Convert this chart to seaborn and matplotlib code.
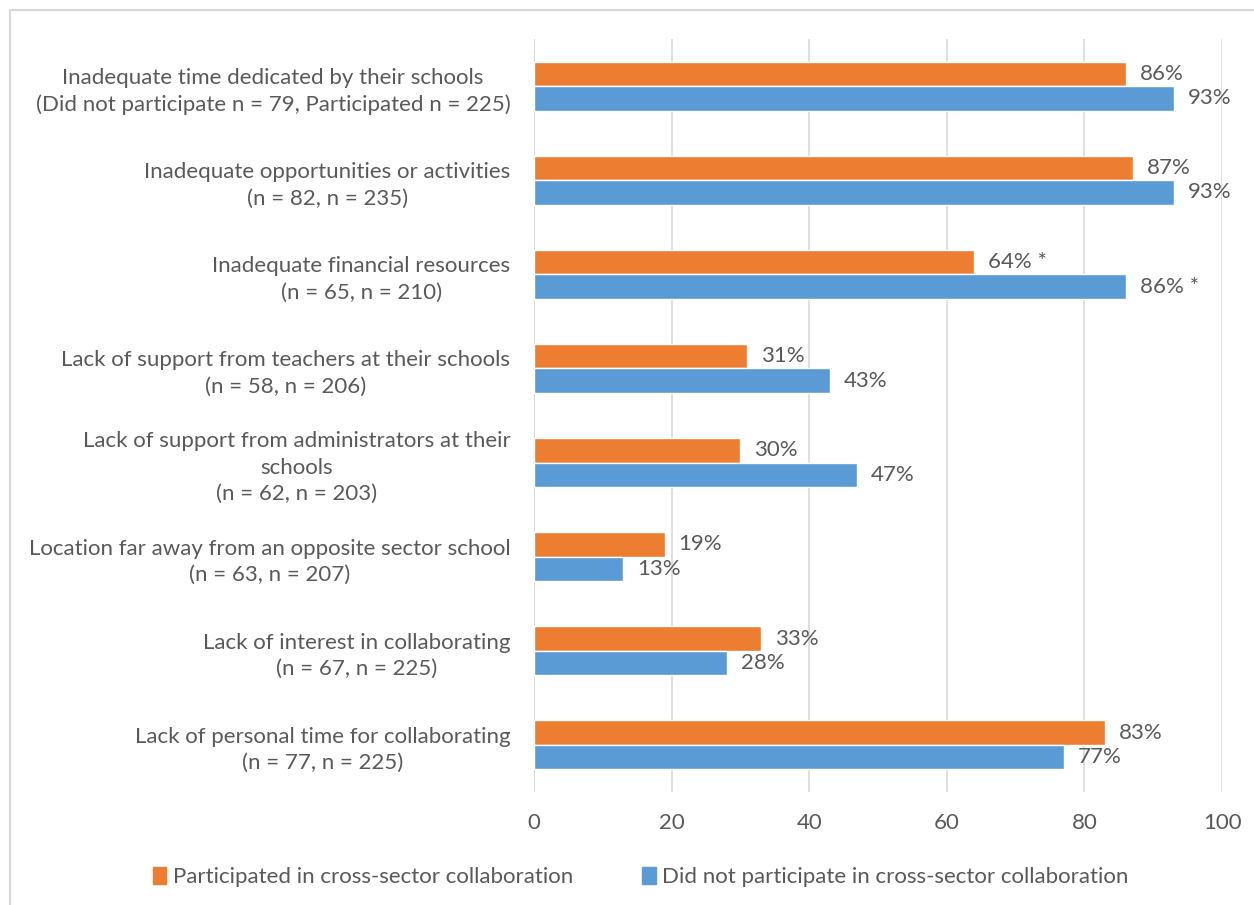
import matplotlib
matplotlib.use("Agg")
import matplotlib.pyplot as plt
import matplotlib.patches as mpatches
import pandas as pd
import seaborn as sns

categories = [
    "Inadequate time dedicated by their schools\n(Did not participate n = 79, Participated n = 225)",
    "Inadequate opportunities or activities\n(n = 82, n = 235)",
    "Inadequate financial resources\n(n = 65, n = 210)",
    "Lack of support from teachers at their schools\n(n = 58, n = 206)",
    "Lack of support from administrators at their\nschools\n(n = 62, n = 203)",
    "Location far away from an opposite sector school\n(n = 63, n = 207)",
    "Lack of interest in collaborating\n(n = 67, n = 225)",
    "Lack of personal time for collaborating\n(n = 77, n = 225)",
]
participated = [86, 87, 64, 31, 30, 19, 33, 83]
not_participated = [93, 93, 86, 43, 47, 13, 28, 77]
significant = [False, False, True, False, False, False, False, False]

series_names = ["Participated in cross-sector collaboration",
                "Did not participate in cross-sector collaboration"]
colors = ["#ED7D31", "#5B9BD5"]
text_color = "#595959"
grid_color = "#D9D9D9"
fs = 16

df = pd.DataFrame({
    "category": categories * 2,
    "value": participated + not_participated,
    "series": [series_names[0]] * len(categories) + [series_names[1]] * len(categories),
})

sns.set_style("white")
plt.rcParams["font.family"] = ["Lato", "DejaVu Sans"]

fig = plt.figure(figsize=(12.54, 9.05), dpi=100)
ax = fig.add_axes([0.4258, 0.1249, 0.5487, 0.832])

sns.barplot(data=df, y="category", x="value", hue="series", order=categories,
            hue_order=series_names, palette=colors, orient="h", width=0.52,
            saturation=1, ax=ax, legend=True)

for cont, vals in zip(ax.containers, [participated, not_participated]):
    labels = [f"{v}%" + (" *" if s else "") for v, s in zip(vals, significant)]
    ax.bar_label(cont, labels=labels, padding=10, fontsize=fs, color=text_color)

ax.set_xlim(0, 100)
ax.set_xticks(range(0, 101, 20))
ax.grid(axis="x", color=grid_color, linewidth=1.2)
ax.set_axisbelow(True)
for sp in ax.spines.values():
    sp.set_visible(False)
ax.axvline(0, color=grid_color, linewidth=1.2, zorder=0)
ax.set_xlabel("")
ax.set_ylabel("")
ax.tick_params(axis="x", length=0, pad=15, labelsize=fs, labelcolor=text_color)
ax.tick_params(axis="y", length=0, pad=17, labelsize=fs, labelcolor=text_color)
for lbl in ax.get_yticklabels():
    lbl.set_multialignment("center")
    lbl.set_linespacing(1.4)

handles = [mpatches.Patch(color=c) for c in colors]
ax.legend(handles, series_names, loc="center", bbox_to_anchor=(0.511, 0.031),
          bbox_transform=fig.transFigure, ncol=2, frameon=False, fontsize=fs,
          handlelength=0.6, handleheight=0.8, handletextpad=0.3, columnspacing=3.1,
          labelcolor=text_color)

fig.patches.append(mpatches.Rectangle((10 / 1254, -0.1), 1.2, 1 - 10 / 905 + 0.1,
                                      transform=fig.transFigure, fill=False,
                                      edgecolor=grid_color, linewidth=1.5))

fig.savefig("out.png", dpi=100)
